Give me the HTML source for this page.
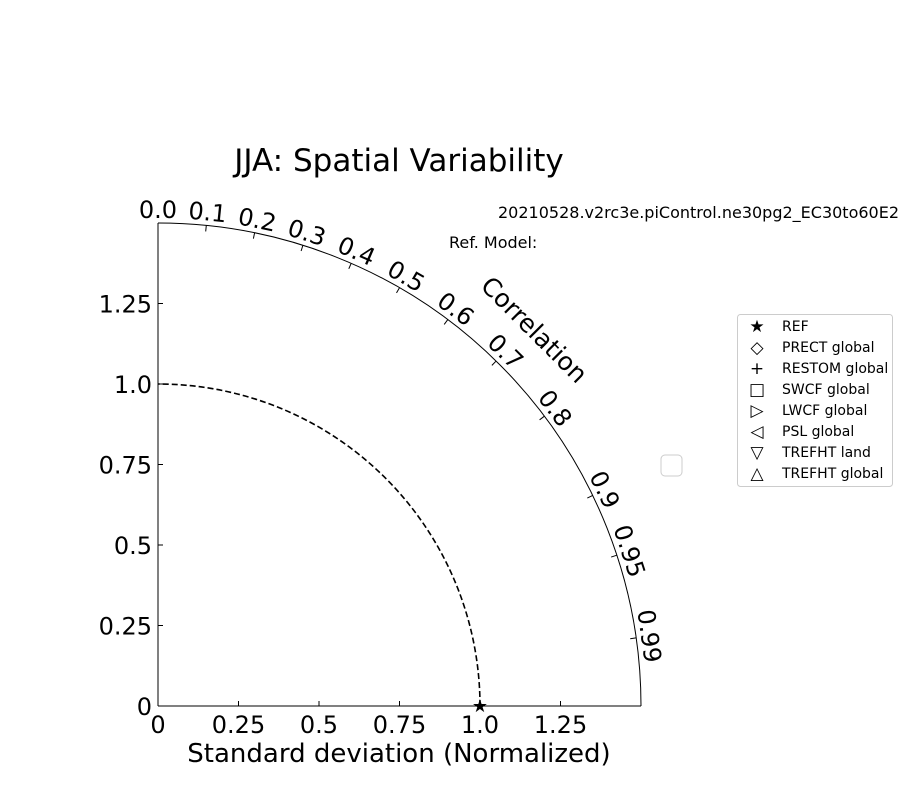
<!DOCTYPE html>
<html><head><meta charset="utf-8"><style>
body{margin:0;background:#fff}
svg text{font-family:"DejaVu Sans","Liberation Sans",sans-serif;fill:#000}
</style></head><body>
<svg width="900" height="800" viewBox="0 0 900 800">
<rect width="900" height="800" fill="#fff"/>
<text x="399" y="171" font-size="31" text-anchor="middle">JJA: Spatial Variability</text>
<text x="498" y="218" font-size="16">20210528.v2rc3e.piControl.ne30pg2_EC30to60E2r2.chrysalis</text>
<text x="449" y="248" font-size="16">Ref. Model:</text>
<g id="plot"></g>
<g>
<rect x="737.5" y="314.5" width="155" height="172" rx="3" fill="#fff" stroke="#ccc"/>
<rect x="661" y="455" width="21" height="21" rx="4" fill="#fff" stroke="#ccc"/>
<g id="legend-items"></g>
</g>
</svg>
<script>
const stdTicks=[0,0.25,0.5,0.75,1.0,1.25];
const stdTickLabels=["0","0.25","0.5","0.75","1.0","1.25"];
const corrTicks=[0.0,0.1,0.2,0.3,0.4,0.5,0.6,0.7,0.8,0.9,0.95,0.99];
const corrLabels=["0.0","0.1","0.2","0.3","0.4","0.5","0.6","0.7","0.8","0.9","0.95","0.99"];
const refStd=[1.0];
const legendNames=["REF","PRECT global","RESTOM global","SWCF global","LWCF global","PSL global","TREFHT land","TREFHT global"];
const legendSymbols=["★","◇","+","□","▷","◁","▽","△"];
const maxStd=1.5;
const ox=158, oy=706, sc=322;
const X=v=>ox+v*sc, Y=v=>oy-v*sc;
const NS="http://www.w3.org/2000/svg";
const g=document.getElementById('plot');
function mk(tag,attrs,parent){const e=document.createElementNS(NS,tag);for(const k in attrs)e.setAttribute(k,attrs[k]);(parent||g).appendChild(e);return e;}
// axes
let ax=mk('line',{x1:X(0),y1:Y(0),x2:X(maxStd),y2:Y(0),stroke:'#000'});


let ay=mk('line',{x1:X(0),y1:Y(0),x2:X(0),y2:Y(maxStd),stroke:'#000'});


let arc=mk('path',{d:`M${X(maxStd)},${oy} A${maxStd*sc},${maxStd*sc} 0 0 0 ${ox},${Y(maxStd)}`,fill:'none',stroke:'#000'});


stdTicks.forEach((v,i)=>{
  mk('line',{x1:X(v),y1:oy,x2:X(v),y2:oy-5,stroke:'#000'});
  mk('line',{x1:ox,y1:Y(v),x2:ox+5,y2:Y(v),stroke:'#000'});
  let t=mk('text',{x:X(v),y:oy+27,'font-size':24,'text-anchor':'middle'});t.textContent=stdTickLabels[i];
  
  
  let t2=mk('text',{x:ox-6,y:Y(v)+9,'font-size':24,'text-anchor':'end'});t2.textContent=stdTickLabels[i];
  
  
});
corrTicks.forEach((c,i)=>{
  const th=Math.acos(c), R=maxStd*sc;
  mk('line',{x1:ox+R*Math.cos(th),y1:oy-R*Math.sin(th),x2:ox+(R-6)*Math.cos(th),y2:oy-(R-6)*Math.sin(th),stroke:'#000'});
  const r=496, x=ox+r*Math.cos(th), y=oy-r*Math.sin(th), rot=90-th*180/Math.PI;
  let t=mk('text',{x:x,y:y,'font-size':24,'text-anchor':'middle','dominant-baseline':'central',transform:`rotate(${rot} ${x} ${y})`});
  t.textContent=corrLabels[i];
  
  
});
{const r=532,th=Math.PI/4,x=ox+r*Math.cos(th),y=oy-r*Math.sin(th);
let t=mk('text',{x:x,y:y,'font-size':25,'text-anchor':'middle','dominant-baseline':'central',transform:`rotate(45 ${x} ${y})`});t.textContent='Correlation';

}
let xl=mk('text',{x:399,y:762,'font-size':26,'text-anchor':'middle'});xl.textContent='Standard deviation (Normalized)';


refStd.forEach(s=>{
  let p=mk('path',{d:`M${X(s)},${oy} A${s*sc},${s*sc} 0 0 0 ${ox},${Y(s)}`,fill:'none',stroke:'#000','stroke-width':1.6,'stroke-dasharray':'6,3'});
  
  
  let st=mk('text',{x:X(s),y:oy+6,'font-size':18,'text-anchor':'middle'});st.textContent='★';
  
  
});
const lg=document.getElementById('legend-items');
legendNames.forEach((n,i)=>{
  const y=326+i*21;
  let s=mk('text',{x:757,y:y+6,'font-size':17,'text-anchor':'middle'},lg);s.textContent=legendSymbols[i];
  
  
  let t=mk('text',{x:782,y:y+5,'font-size':14},lg);t.textContent=n;
  
  
});
</script>
</body></html>
